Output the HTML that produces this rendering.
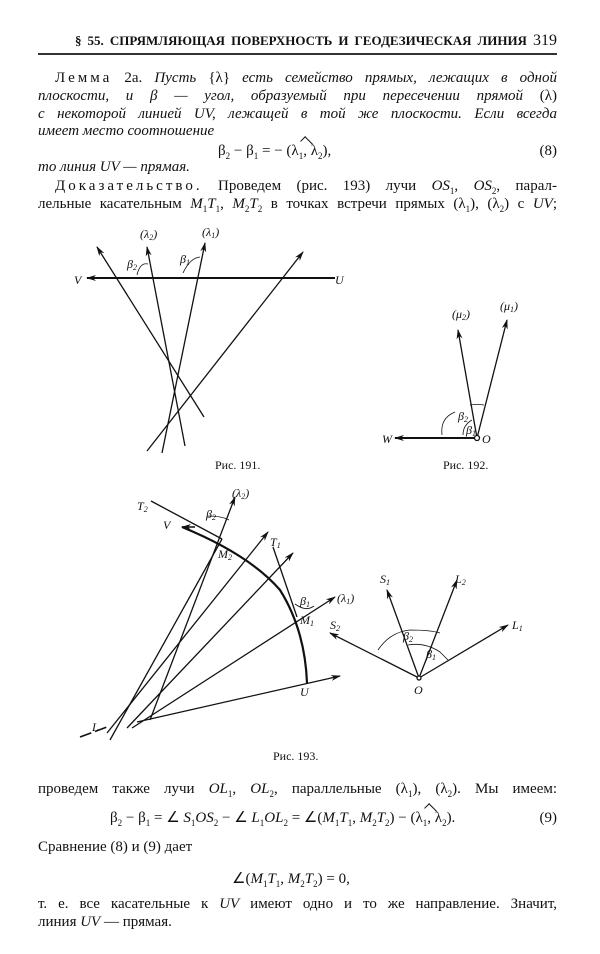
<!DOCTYPE html>
<html><head><meta charset="utf-8"><style>
body{margin:0;background:#fff;}
#p{position:relative;width:600px;height:954px;background:#fff;font-family:"Liberation Serif",serif;color:#111;overflow:hidden}
.l{position:absolute;left:38px;width:519px;font-size:15px;line-height:18px;white-space:nowrap;text-align:justify;text-align-last:justify}
.n{text-align-last:left}
i{font-style:italic}
.sp{letter-spacing:3px}
.h{position:relative;display:inline-block}
.h:before{content:"";position:absolute;left:30%;top:-3px;width:10px;height:6px;border-left:1.3px solid #111;border-top:1.3px solid #111;transform:rotate(45deg);transform-origin:center}
svg{position:absolute;left:0;top:0}
svg text{font-family:"Liberation Serif",serif;font-style:italic;font-size:12px;fill:#111}
</style></head><body><div id="p">
<div class="l" style="top:32px;font-size:13px;left:75px;width:482px;font-weight:bold">§ 55. СПРЯМЛЯЮЩАЯ ПОВЕРХНОСТЬ И ГЕОДЕЗИЧЕСКАЯ ЛИНИЯ <span style="font-size:16px;font-weight:normal">319</span></div>
<div style="position:absolute;left:38px;top:53px;width:519px;height:2px;background:#333"></div>
<div class="l" style="top:69px;left:55px;width:502px"><span class="sp">Лемма</span> 2а. <i>Пусть</i> {λ} <i>есть семейство прямых, лежащих в одной</i></div>
<div class="l" style="top:87px"><i>плоскости, и β — угол, образуемый при пересечении прямой</i> (λ)</div>
<div class="l" style="top:105px"><i>с некоторой линией UV, лежащей в той же плоскости. Если всегда</i></div>
<div class="l n" style="top:122px"><i>имеет место соотношение</i></div>
<div class="l n" style="top:142px;left:218px;width:339px">β<sub style="font-size:9px">2</sub> − β<sub style="font-size:9px">1</sub> = − (<span class="h">λ<sub style="font-size:9px">1</sub>, λ<sub style="font-size:9px">2</sub></span>),<span style="position:absolute;right:0">(8)</span></div>
<div class="l n" style="top:158px"><i>то линия UV — прямая.</i></div>
<div class="l" style="top:177px;left:55px;width:502px"><span class="sp">Доказательство.</span> Проведем (рис. 193) лучи <i>OS</i><sub style="font-size:9px">1</sub>, <i>OS</i><sub style="font-size:9px">2</sub>, парал-</div>
<div class="l" style="top:195px">лельные касательным <i>M</i><sub style="font-size:9px">1</sub><i>T</i><sub style="font-size:9px">1</sub>, <i>M</i><sub style="font-size:9px">2</sub><i>T</i><sub style="font-size:9px">2</sub> в точках встречи прямых (λ<sub style="font-size:9px">1</sub>), (λ<sub style="font-size:9px">2</sub>) с <i>UV</i>;</div>

<svg width="600" height="954" viewBox="0 0 600 954">
<defs><marker id="a" markerWidth="10" markerHeight="6" refX="9" refY="3" orient="auto" markerUnits="userSpaceOnUse"><path d="M0,0 L10,3 L0,6 L3,3z" fill="#111"/></marker></defs>
<g stroke="#111" stroke-width="1.3" fill="none">
<line x1="335" y1="278" x2="87" y2="278" stroke-width="2" marker-end="url(#a)"/>
<line x1="204" y1="417" x2="97" y2="247" marker-end="url(#a)"/>
<line x1="185" y1="446" x2="147" y2="247" marker-end="url(#a)"/>
<line x1="162" y1="453" x2="205" y2="243" marker-end="url(#a)"/>
<line x1="147" y1="451" x2="303" y2="252" marker-end="url(#a)"/>
<path d="M148,264 Q140,262 137,275" stroke-width="0.8"/>
<path d="M200,257 Q190,258 183,273" stroke-width="0.8"/>
<line x1="477" y1="438" x2="395" y2="438" stroke-width="2" marker-end="url(#a)"/>
<line x1="477" y1="438" x2="458" y2="330" marker-end="url(#a)"/>
<line x1="477" y1="438" x2="507" y2="320" marker-end="url(#a)"/>
<circle cx="477" cy="438" r="2.5" fill="#fff"/>
<path d="M470,405 Q478,404 484,405" stroke-width="0.8"/>
<path d="M455,412 Q440,418 442,435" stroke-width="0.8"/>
<path d="M472,420 Q463,425 463,435" stroke-width="0.8"/>
<line x1="80" y1="737" x2="107" y2="727" stroke-width="1.6" stroke-dasharray="12,4"/>
<path d="M182,527 Q250,555 280,590 Q305,630 307,683" stroke-width="2.2"/>
<line x1="195" y1="527" x2="182" y2="527" stroke-width="1.5" marker-end="url(#a)"/>
<line x1="151" y1="501" x2="222" y2="539"/>
<path d="M222,539 Q160,650 110,740"/>
<line x1="150" y1="720" x2="235" y2="497" marker-end="url(#a)"/>
<line x1="107" y1="733" x2="268" y2="532" marker-end="url(#a)"/>
<line x1="127" y1="728" x2="293" y2="553" marker-end="url(#a)"/>
<line x1="273" y1="547" x2="297" y2="617"/>
<line x1="132" y1="728" x2="335" y2="597" marker-end="url(#a)"/>
<line x1="137" y1="722" x2="340" y2="676" marker-end="url(#a)"/>
<path d="M207,516 Q222,516 229,520" stroke-width="0.8"/>
<path d="M295,604 Q306,612 314,606" stroke-width="0.8"/>
<line x1="419" y1="678" x2="387" y2="590" marker-end="url(#a)"/>
<line x1="419" y1="678" x2="457" y2="580" marker-end="url(#a)"/>
<line x1="419" y1="678" x2="330" y2="633" marker-end="url(#a)"/>
<line x1="419" y1="678" x2="508" y2="625" marker-end="url(#a)"/>
<circle cx="419" cy="678" r="2" fill="#fff"/>
<path d="M378,650 Q390,632 410,630 Q430,630 440,633" stroke-width="0.8"/>
<path d="M408,645 Q425,642 440,652 Q445,657 448,660" stroke-width="0.8"/>
</g>
<text x="74" y="284">V</text><text x="335" y="284">U</text>
<text x="140" y="238">(λ<tspan font-size="8" dy="2">2</tspan><tspan dy="-2">)</tspan></text>
<text x="202" y="236">(λ<tspan font-size="8" dy="2">1</tspan><tspan dy="-2">)</tspan></text>
<text x="127" y="268">β<tspan font-size="8" dy="2">2</tspan></text>
<text x="180" y="263">β<tspan font-size="8" dy="2">1</tspan></text>
<text x="382" y="443">W</text><text x="482" y="443">O</text>
<text x="452" y="318">(μ<tspan font-size="8" dy="2">2</tspan><tspan dy="-2">)</tspan></text>
<text x="500" y="310">(μ<tspan font-size="8" dy="2">1</tspan><tspan dy="-2">)</tspan></text>
<text x="458" y="420">β<tspan font-size="8" dy="2">2</tspan></text>
<text x="466" y="434">β<tspan font-size="8" dy="2">1</tspan></text>
<text x="137" y="510">T<tspan font-size="8" dy="2">2</tspan></text>
<text x="232" y="497">(λ<tspan font-size="8" dy="2">2</tspan><tspan dy="-2">)</tspan></text>
<text x="163" y="529">V</text>
<text x="206" y="518">β<tspan font-size="8" dy="2">2</tspan></text>
<text x="218" y="558">M<tspan font-size="8" dy="2">2</tspan></text>
<text x="270" y="546">T<tspan font-size="8" dy="2">1</tspan></text>
<text x="300" y="605">β<tspan font-size="8" dy="2">1</tspan></text>
<text x="337" y="602">(λ<tspan font-size="8" dy="2">1</tspan><tspan dy="-2">)</tspan></text>
<text x="300" y="624">M<tspan font-size="8" dy="2">1</tspan></text>
<text x="300" y="696">U</text>
<text x="92" y="731" font-style="normal">L</text>
<text x="380" y="583">S<tspan font-size="8" dy="2">1</tspan></text>
<text x="455" y="583">L<tspan font-size="8" dy="2">2</tspan></text>
<text x="330" y="629">S<tspan font-size="8" dy="2">2</tspan></text>
<text x="512" y="629">L<tspan font-size="8" dy="2">1</tspan></text>
<text x="403" y="640">β<tspan font-size="8" dy="2">2</tspan></text>
<text x="426" y="658">β<tspan font-size="8" dy="2">1</tspan></text>
<text x="414" y="694">O</text>
<g><text x="215" y="469" style="font-style:normal">Рис. 191.</text><text x="443" y="469" style="font-style:normal">Рис. 192.</text><text x="273" y="760" style="font-style:normal">Рис. 193.</text></g>
</svg>

<div class="l" style="top:780px">проведем также лучи <i>OL</i><sub style="font-size:9px">1</sub>, <i>OL</i><sub style="font-size:9px">2</sub>, параллельные (λ<sub style="font-size:9px">1</sub>), (λ<sub style="font-size:9px">2</sub>). Мы имеем:</div>
<div class="l n" style="top:809px;left:110px;width:447px">β<sub style="font-size:9px">2</sub> − β<sub style="font-size:9px">1</sub> = ∠ <i>S</i><sub style="font-size:9px">1</sub><i>OS</i><sub style="font-size:9px">2</sub> − ∠ <i>L</i><sub style="font-size:9px">1</sub><i>OL</i><sub style="font-size:9px">2</sub> = ∠(<i>M</i><sub style="font-size:9px">1</sub><i>T</i><sub style="font-size:9px">1</sub>, <i>M</i><sub style="font-size:9px">2</sub><i>T</i><sub style="font-size:9px">2</sub>) − (<span class="h">λ<sub style="font-size:9px">1</sub>, λ<sub style="font-size:9px">2</sub></span>).<span style="position:absolute;right:0">(9)</span></div>
<div class="l n" style="top:838px">Сравнение (8) и (9) дает</div>
<div class="l n" style="top:870px;left:232px">∠(<i>M</i><sub style="font-size:9px">1</sub><i>T</i><sub style="font-size:9px">1</sub>, <i>M</i><sub style="font-size:9px">2</sub><i>T</i><sub style="font-size:9px">2</sub>) = 0,</div>
<div class="l" style="top:895px">т. е. все касательные к <i>UV</i> имеют одно и то же направление. Значит,</div>
<div class="l n" style="top:913px">линия <i>UV</i> — прямая.</div>
</div></body></html>
